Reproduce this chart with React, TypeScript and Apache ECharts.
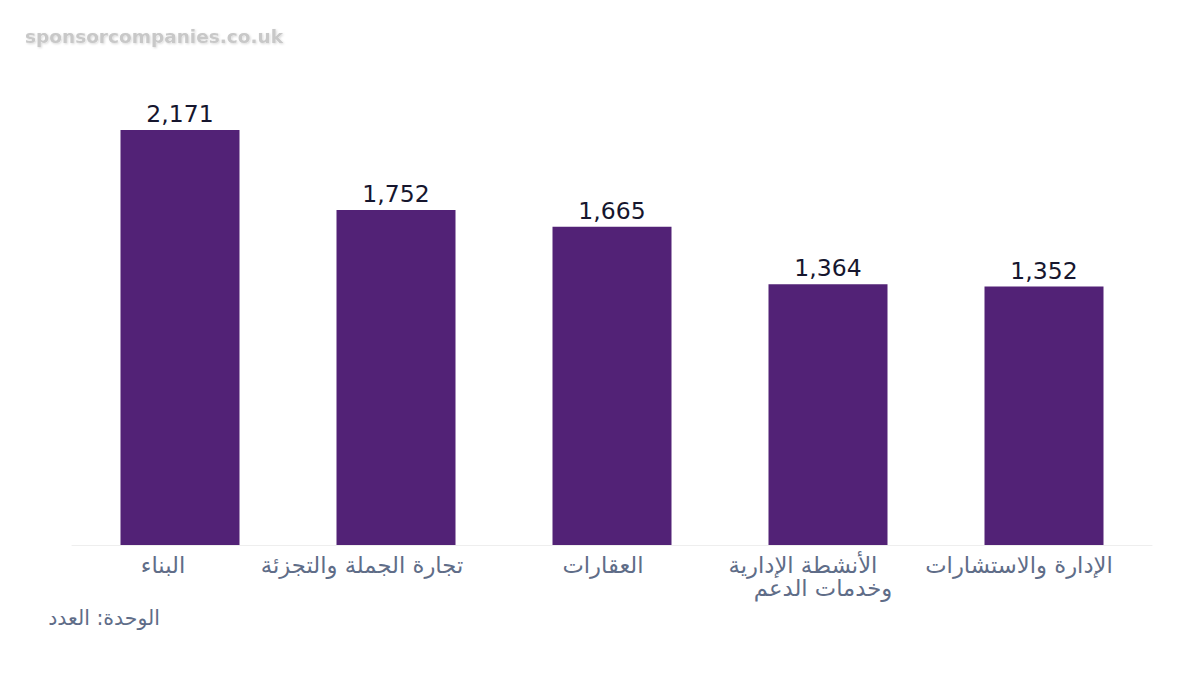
import React, { useEffect, useRef } from "react";
import * as echarts from "echarts";

const categories = [
  "البناء",
  "تجارة الجملة والتجزئة",
  "العقارات",
  "الأنشطة الإدارية\nوخدمات الدعم",
  "الإدارة والاستشارات",
];
const values = [2171, 1752, 1665, 1364, 1352];
const unitLabel = "الوحدة: العدد";
const watermark = "sponsorcompanies.co.uk";

// horizontal nudge (px, to the left) of each category label line, as in the reference
const labelShift: Record<string, number> = {
  "البناء": 17,
  "تجارة الجملة والتجزئة": 34,
  "العقارات": 9,
  "الأنشطة الإدارية": 25,
  "وخدمات الدعم": 5,
  "الإدارة والاستشارات": 25,
};

export default function App() {
  const ref = useRef<HTMLDivElement>(null);
  useEffect(() => {
    if (!ref.current) return;
    const chart = echarts.init(ref.current, undefined, { renderer: "svg" });
    const rich: Record<string, any> = {};
    const keyOf: Record<string, string> = {};
    Object.keys(labelShift).forEach((line, i) => {
      const k = "l" + i;
      keyOf[line] = k;
      rich[k] = {
        color: "#5f6d88",
        fontSize: 22.7,
        lineHeight: 23,
        fontFamily: "DejaVu Sans",
        padding: [0, labelShift[line] * 2, 0, 0],
      };
    });
    chart.setOption({
      animation: false,
      backgroundColor: "#ffffff",
      textStyle: { fontFamily: "DejaVu Sans" },
      grid: { left: 72, right: 48, top: 130, bottom: 130, containLabel: false },
      xAxis: {
        type: "category",
        data: categories,
        axisLine: { lineStyle: { color: "#eeeeee", width: 1 } },
        axisTick: { show: false },
        axisLabel: {
          color: "#5f6d88",
          fontSize: 22.7,
          lineHeight: 23,
          margin: 8,
          interval: 0,
          fontFamily: "DejaVu Sans",
          formatter: (v: string) =>
            v
              .split("\n")
              .map((line) => (keyOf[line] ? `{${keyOf[line]}|${line}}` : line))
              .join("\n"),
          rich,
        },
      },
      yAxis: {
        type: "value",
        min: 0,
        max: "dataMax",
        show: false,
        splitLine: { show: false },
      },
      series: [
        {
          type: "bar",
          data: values,
          barWidth: 119,
          itemStyle: { color: "#522276" },
          label: {
            show: true,
            position: "top",
            distance: 4,
            color: "#16162e",
            fontSize: 23.5,
            fontFamily: "DejaVu Sans",
            formatter: (p: any) => Number(p.value).toLocaleString("en-US"),
          },
        },
      ],
      graphic: [
        {
          type: "text",
          left: 25,
          top: 27,
          style: {
            text: watermark,
            fill: "#c8c8c8",
            font: "bold 18.5px DejaVu Sans",
            textShadowColor: "rgba(0,0,0,0.15)",
            textShadowBlur: 2,
            textShadowOffsetX: 1,
            textShadowOffsetY: 1,
          },
        },
        {
          type: "text",
          right: 1040,
          top: 607,
          style: {
            text: unitLabel,
            fill: "#5f6d88",
            font: "20.5px DejaVu Sans",
          },
        },
      ],
    });
    return () => chart.dispose();
  }, []);
  return (
    <div
      ref={ref}
      style={{ position: "fixed", left: 0, top: 0, width: 1200, height: 675 }}
    />
  );
}
